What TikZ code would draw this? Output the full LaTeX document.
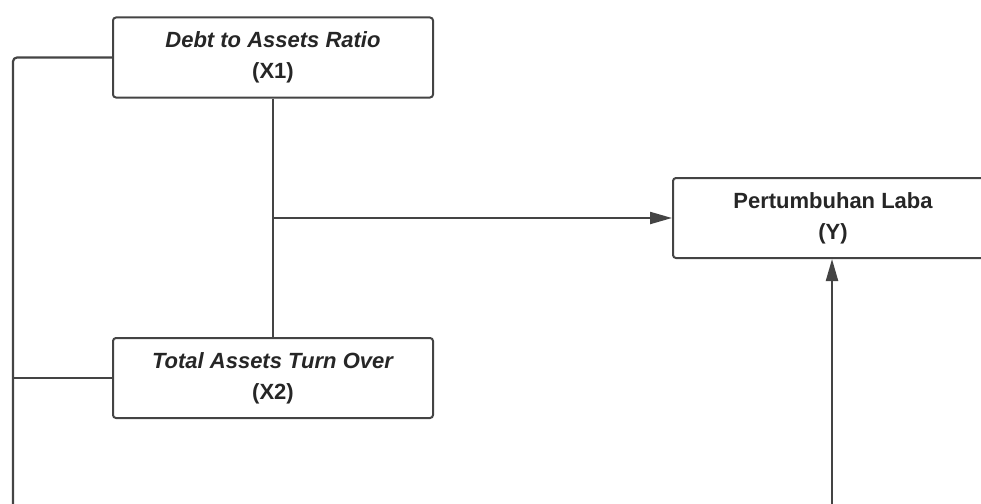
\documentclass[tikz,border=0pt]{standalone}
\usepackage{fontspec}
\setmainfont{Liberation Sans}
\usetikzlibrary{arrows.meta}
\definecolor{linegray}{HTML}{444444}
\begin{document}
\begin{tikzpicture}[x=1pt,y=-1pt,
  box/.style={draw=linegray, line width=2pt, rounded corners=3pt, minimum width=320pt, minimum height=80pt,
    align=center, font=\fontsize{22}{31}\selectfont\bfseries, text=black!85, inner sep=0pt},
  conn/.style={draw=linegray, line width=2.2pt},
  arr/.style={conn, -{Triangle[length=22pt,width=12pt]}}]
\useasboundingbox (0,0) rectangle (981,503);
\clip (0,0) rectangle (981,503);
\node[box] (x1) at (273,57.5) {\textit{Debt to Assets Ratio}\\(X1)};
\node[box] (x2) at (273,378) {\textit{Total Assets Turn Over}\\(X2)};
\node[box] (y) at (833,218) {Pertumbuhan Laba\\(Y)};
\coordinate (bl) at (13,510);
\coordinate (br) at (832,510);
\coordinate (j) at (273,218);
\draw[conn, rounded corners=4pt] (x1.west) -| (bl);
\draw[conn] (x2.west) -- (13,378);
\draw[conn] (x1.south) -- (x2.north);
\draw[arr] (j) -- (y.west);
\draw[arr] (br) -- (y.south -| br);
\end{tikzpicture}
\end{document}
